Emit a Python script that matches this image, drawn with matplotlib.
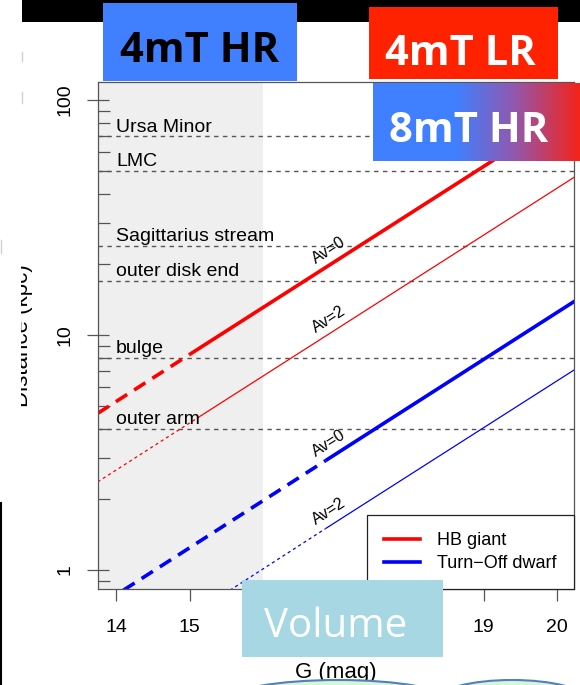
import matplotlib.pyplot as plt
import numpy as np
from matplotlib.patches import Rectangle, Ellipse
from matplotlib.lines import Line2D
from matplotlib.ticker import LogLocator, NullFormatter

plt.rcParams['font.family'] = ['Liberation Sans', 'DejaVu Sans']

# Galactic landmarks (kpc)
landmark_names = ["Ursa Minor", "LMC", "Sagittarius stream",
                  "outer disk end", "bulge", "outer arm"]
landmark_kpc = [70, 50, 24, 17, 8, 4]

# tracks: G at the left edge, at the saturation break, at the right edge
hb_av0_g = [13.75, 15.0, 20.25]
hb_av0_kpc = [4.64, 8.26, 92.7]
hb_av2_g = [13.75, 15.1, 20.25]
hb_av2_kpc = [2.37, 4.42, 47.3]
to_av0_g = [14.1, 16.85, 20.25]
to_av0_kpc = [0.82, 2.92, 14.0]
to_av2_g = [15.55, 16.85, 20.25]
to_av2_kpc = [0.82, 1.50, 7.16]

label_g = 16.9
g_ticks = [14, 15, 16, 17, 18, 19, 20]
g_tick_labels = ["14", "15", "", "", "", "19", "20"]  # 16-18 sit under the Volume box
d_ticks = [1, 10, 100]
d_tick_labels = ["1", "10", "100"]
bright_limit_g = 16.0

fig = plt.figure(figsize=(5.8, 6.85), dpi=100)
ax = fig.add_axes([98 / 580, 1 - 589 / 685, 476 / 580, 507 / 685])
ax.set_yscale('log')
ax.set_xlim(13.755, 20.23)
ax.set_ylim(0.83, 119.3)

ax.axvspan(13.755, bright_limit_g, color='#efefef', lw=0, zorder=0)

for name, d in zip(landmark_names, landmark_kpc):
    ax.axhline(d, color='#555555', lw=1.0, ls=(0, (3.2, 3.2)), zorder=1)
    ax.annotate(name, (14.0, d), xytext=(0, 3.5), textcoords='offset points',
                ha='left', va='baseline', fontsize=14, zorder=3)

tracks = [
    (hb_av0_g, hb_av0_kpc, 'red', 2.6, (0, (3.7, 2.3)), "Av=0"),
    (hb_av2_g, hb_av2_kpc, 'red', 0.9, (0, (2.5, 2.5)), "Av=2"),
    (to_av0_g, to_av0_kpc, 'blue', 2.6, (0, (3.7, 2.3)), "Av=0"),
    (to_av2_g, to_av2_kpc, 'blue', 0.9, (0, (2.5, 2.5)), "Av=2"),
]
for g, d, col, lw, faint_ls, av in tracks:
    ax.plot(g[:2], d[:2], color=col, lw=lw, ls=faint_ls, zorder=2)
    ax.plot(g[1:], d[1:], color=col, lw=lw, zorder=2, solid_capstyle='butt')
    p0 = ax.transData.transform((g[1], d[1]))
    p1 = ax.transData.transform((g[2], d[2]))
    ang = np.degrees(np.arctan2(p1[1] - p0[1], p1[0] - p0[0]))
    dl = 10 ** np.interp(label_g, g, np.log10(d))
    ax.annotate(av, (label_g, dl), xytext=(0, 10.5), textcoords='offset points',
                rotation=ang, rotation_mode='anchor', ha='center', va='center',
                fontsize=11.5, zorder=3)

ax.set_xticks(g_ticks)
ax.set_xticklabels(g_tick_labels)
ax.set_yticks(d_ticks)
ax.set_yticklabels(d_tick_labels, rotation=90, va='center')
ax.yaxis.set_minor_locator(LogLocator(base=10, subs=np.arange(2, 10)))
ax.yaxis.set_minor_formatter(NullFormatter())
ax.tick_params(axis='x', direction='out', length=8.6, width=0.9,
               color='#555555', labelsize=14, pad=13)
ax.tick_params(axis='y', which='major', direction='inout', length=16.5,
               width=0.9, color='#555555', labelsize=14, pad=9.5)
ax.tick_params(axis='y', which='minor', direction='in', length=8.6,
               width=0.9, color='#555555')
for sp in ax.spines.values():
    sp.set_color('#555555')
    sp.set_linewidth(0.9)

ax.set_xlabel('G (mag)', fontsize=16)
ax.xaxis.set_label_coords(0.5, -0.143)
ax.set_ylabel('Distance (kpc)', fontsize=16)
ax.yaxis.set_label_coords(-0.137, 0.5)

handles = [Line2D([], [], color='red', lw=2.6),
           Line2D([], [], color='blue', lw=2.6)]
leg = ax.legend(handles, ["HB giant", "Turn\u2212Off dwarf"], loc='lower right',
                fancybox=False, framealpha=1, edgecolor='#222222',
                borderaxespad=0, handlelength=2.0, handletextpad=0.95,
                borderpad=0.95, labelspacing=0.3, fontsize=13)
leg.get_frame().set_linewidth(0.9)

# slide elements drawn over the plot, in pixel units
deco = fig.add_axes([0, 0, 1, 1], zorder=10)
deco.patch.set_alpha(0)

deco.add_patch(Rectangle((22, 0), 558, 22, color='black', lw=0))
deco.add_patch(Rectangle((0, 150), 21, 350, color='white', lw=0))
deco.plot([0.5, 0.5], [503, 685], color='black', lw=1.5)
deco.plot([22, 22], [52, 61], color='#d0d0d0', lw=1)
deco.plot([22, 22], [92, 103], color='#d0d0d0', lw=1)
deco.plot([0.5, 0.5], [240, 253], color='#d0d0d0', lw=1)

box_font = ['Open Sans', 'DejaVu Sans']
deco.add_patch(Rectangle((103, 3), 194, 78, color='#4080ff', lw=0))
deco.text(200, 62, '4mT HR', ha='center', va='baseline', fontsize=30,
          fontweight='bold', family=box_font, color='black')

deco.add_patch(Rectangle((369, 7), 189, 72, color='#ff2200', lw=0))
deco.text(460, 65, '4mT LR', ha='center', va='baseline', fontsize=30,
          fontweight='bold', family=box_font, color='white')

# blue-to-red fill of the third box
xs = np.linspace(0, 1, 256)
stops = [0.0, 0.4, 0.68, 1.0]
blue = np.array([64, 128, 255]) / 255
purple = np.array([145, 88, 175]) / 255
red = np.array([245, 35, 25]) / 255
cols = np.stack([np.interp(xs, stops, [blue[i], blue[i], purple[i], red[i]])
                 for i in range(3)], axis=-1)
deco.imshow(cols[np.newaxis, :, :], extent=(373, 580, 161, 83),
            aspect='auto', zorder=1)
deco.text(469, 142, '8mT HR', ha='center', va='baseline', fontsize=30,
          fontweight='bold', family=box_font, color='white', zorder=2)

deco.add_patch(Rectangle((242, 580), 201, 77, color='#a6d7e3', lw=0))
deco.text(336, 637, 'Volume', ha='center', va='baseline', fontsize=29,
          family=box_font, color='white')

deco.add_patch(Ellipse((338, 700), 220, 40, facecolor='#d9f5d9',
                       edgecolor='#4f81bd', lw=1.5))
deco.add_patch(Ellipse((512, 700), 150, 40, facecolor='#d9f5d9',
                       edgecolor='#4f81bd', lw=1.5))

deco.set_xlim(0, 580)
deco.set_ylim(685, 0)
deco.axis('off')

fig.savefig('out.png', dpi=100)
